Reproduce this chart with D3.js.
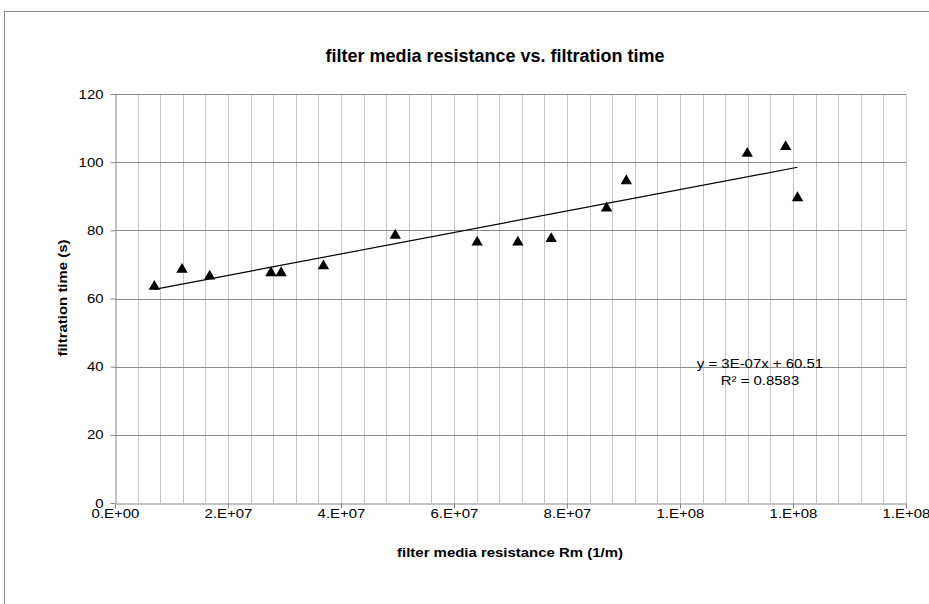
<!DOCTYPE html>
<html lang="en">
<head>
<meta charset="utf-8">
<title>filter media resistance vs. filtration time</title>
<script src="https://cdnjs.cloudflare.com/ajax/libs/d3/7.8.5/d3.min.js"></script>
<style>
  body { margin: 0; background: white; }
  svg { display: block; font-family: "Liberation Sans", Arial, sans-serif; }
  .axis path, .axis line { stroke: #868686; }
  .axis text { font-size: 13px; fill: black; }
</style>
</head>
<body>
<div id="chart"></div>
<script>
// values
const resistance = [6.96e6, 11.86e6, 16.76e6, 27.6e6, 29.4e6, 36.9e6, 49.6e6, 64.1e6,
                    71.3e6, 77.2e6, 87.0e6, 90.5e6, 111.9e6, 118.7e6, 120.8e6];
const filtrationTime = [64, 69, 67, 68, 68, 70, 79, 77, 77, 78, 87, 95, 103, 105, 90];

const xTickValues = [0, 2e7, 4e7, 6e7, 8e7, 1e8, 1.2e8, 1.4e8];
const xTickLabels = ["0.E+00", "2.E+07", "4.E+07", "6.E+07", "8.E+07", "1.E+08", "1.E+08", "1.E+08"];
const xMinorStep = 4e6;
const yTickValues = [0, 20, 40, 60, 80, 100, 120];
const trendLabel = ["y = 3E-07x + 60.51", "R\u00b2 = 0.8583"];

const W = 929, H = 604;
const plotLeft = 115, plotRight = 906, plotTop = 94, plotBottom = 503;
const stretch = 1.15; // Excel's text comes out a bit wide

const svg = d3.select("#chart").append("svg")
  .attr("width", W).attr("height", H);

// chart area border (runs off the right/bottom of the picture)
svg.append("rect")
  .attr("x", 4.5).attr("y", 11.5).attr("width", 1000).attr("height", 700)
  .attr("fill", "white").attr("stroke", "#868686");

const x = d3.scaleLinear().domain([0, 1.4e8]).range([plotLeft, plotRight]);
const y = d3.scaleLinear().domain([0, 120]).range([plotBottom, plotTop]);

// vertical gridlines (every minor unit)
const minor = d3.range(0, 36).map(i => i * xMinorStep);
svg.append("g").selectAll("line")
  .data(minor.slice(1))
  .enter().append("line")
    .attr("x1", d => Math.round(x(d)) + 0.5).attr("x2", d => Math.round(x(d)) + 0.5)
    .attr("y1", plotTop).attr("y2", plotBottom)
    .attr("stroke", "#c4c4c4");

// horizontal gridlines
svg.append("g").selectAll("line")
  .data(yTickValues.slice(1))
  .enter().append("line")
    .attr("x1", plotLeft).attr("x2", plotRight)
    .attr("y1", d => Math.round(y(d)) + 0.5).attr("y2", d => Math.round(y(d)) + 0.5)
    .attr("stroke", "#8c8c8c");

// axes
const xAxis = d3.axisBottom(x)
  .tickValues(xTickValues)
  .tickFormat((d, i) => xTickLabels[i])
  .tickSize(5).tickSizeOuter(0).tickPadding(0);

svg.append("g")
  .attr("class", "axis x")
  .attr("transform", `translate(0,${Math.round(plotBottom) + 0.5})`)
  .call(xAxis)
  .selectAll("text")
    .attr("y", 0)
    .attr("transform", `translate(0,5) scale(${stretch},1)`);

const yAxis = d3.axisLeft(y)
  .tickValues(yTickValues)
  .tickSize(5).tickSizeOuter(0).tickPadding(0);

svg.append("g")
  .attr("class", "axis y")
  .attr("transform", `translate(${plotLeft + 0.5},0)`)
  .call(yAxis)
  .selectAll("text")
    .attr("x", 0)
    .attr("transform", `translate(-12,0) scale(${stretch},1)`);

// trendline from least squares over the points
const mx = d3.mean(resistance), my = d3.mean(filtrationTime);
let sxy = 0, sxx = 0;
resistance.forEach((v, i) => {
  sxy += (v - mx) * (filtrationTime[i] - my);
  sxx += (v - mx) * (v - mx);
});
const slope = sxy / sxx;
const intercept = my - slope * mx;
const xExt = d3.extent(resistance);

svg.append("line")
  .attr("x1", x(xExt[0])).attr("y1", y(intercept + slope * xExt[0]))
  .attr("x2", x(xExt[1])).attr("y2", y(intercept + slope * xExt[1]))
  .attr("stroke", "black").attr("stroke-width", 1.2);

// markers (d3's triangle sits on its centroid, shift so the box is centred)
const triSize = 56;
const triH = Math.sqrt(triSize * Math.sqrt(3));
const tri = d3.symbol().type(d3.symbolTriangle).size(triSize);
svg.append("g").selectAll("path")
  .data(resistance.map((v, i) => [v, filtrationTime[i]]))
  .enter().append("path")
    .attr("d", tri)
    .attr("transform", d => `translate(${x(d[0])},${y(d[1]) + triH / 6})`)
    .attr("fill", "black");

// trendline label
svg.append("g")
  .attr("transform", "translate(760,368)")
  .selectAll("text")
  .data(trendLabel)
  .enter().append("text")
    .attr("y", (d, i) => i * 17)
    .attr("text-anchor", "middle")
    .attr("font-size", 13)
    .attr("transform", `scale(${stretch},1)`)
    .text(d => d);

// titles
svg.append("text")
  .attr("x", 495).attr("y", 62)
  .attr("text-anchor", "middle")
  .attr("font-size", 18).attr("font-weight", "bold")
  .text("filter media resistance vs. filtration time");

svg.append("text")
  .attr("text-anchor", "middle")
  .attr("font-size", 13).attr("font-weight", "bold")
  .attr("transform", `translate(510,557) scale(${stretch},1)`)
  .text("filter media resistance Rm (1/m)");

svg.append("text")
  .attr("text-anchor", "middle")
  .attr("font-size", 13).attr("font-weight", "bold")
  .attr("transform", `translate(67,298) rotate(-90) scale(${stretch},1)`)
  .text("filtration time (s)");
</script>
</body>
</html>
